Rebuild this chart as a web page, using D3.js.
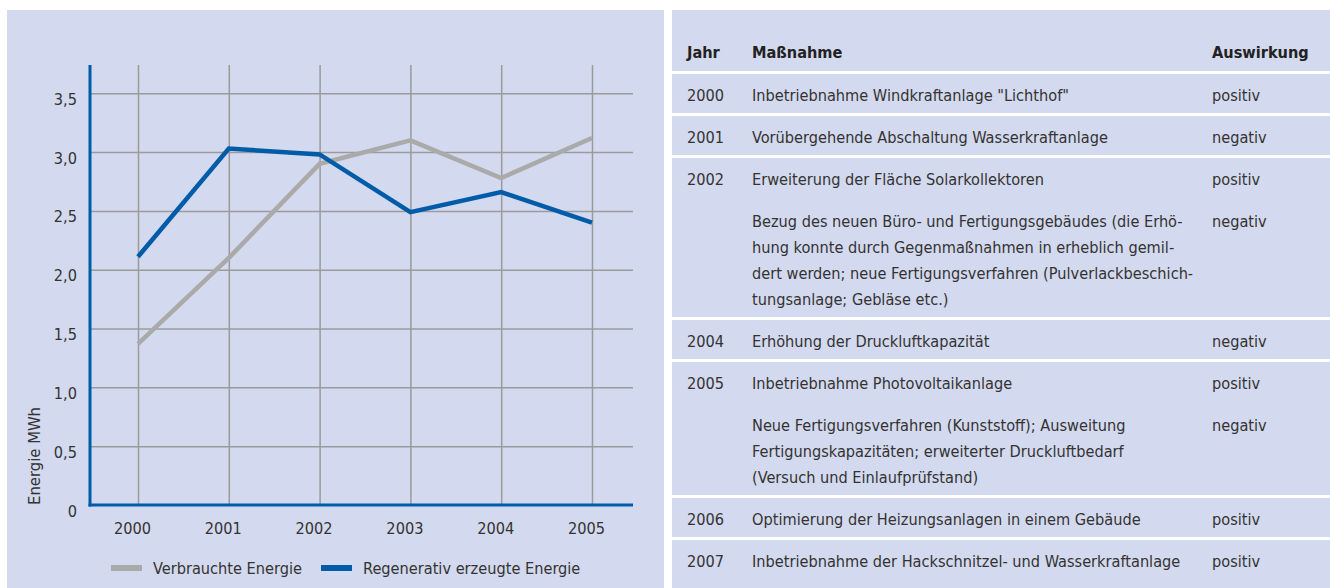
<!DOCTYPE html>
<html>
<head>
<meta charset="utf-8">
<script src="https://cdnjs.cloudflare.com/ajax/libs/d3/7.8.5/d3.min.js"></script>
<style>
	body { margin: 0; background: #fff; }
	svg text { font-family: "DejaVu Sans Condensed", "DejaVu Sans", sans-serif; font-stretch: condensed; fill: #333; font-size: 16.2px; }
	.grid line { stroke: #9b9b9b; stroke-width: 1.5; }
	.grid path { display: none; }
</style>
</head>
<body>
<svg></svg>
<script>
/************* Energie chart + Maßnahmen table *************/

var years = [2000, 2001, 2002, 2003, 2004, 2005];
var verbraucht = [1.37, 2.10, 2.90, 3.10, 2.78, 3.12];
var regenerativ = [2.11, 3.03, 2.98, 2.49, 2.66, 2.40];
var yTicks = [0, 0.5, 1, 1.5, 2, 2.5, 3, 3.5];
var seriesNames = ['Verbrauchte Energie', 'Regenerativ erzeugte Energie'];
var yTitle = 'Energie MWh';

var tableHead = ['Jahr', 'Maßnahme', 'Auswirkung'];
var tableYears = ['2000', '2001', '2002', '2004', '2005', '2006', '2007'];
var tableMeasures = [
	[['Inbetriebnahme Windkraftanlage "Lichthof"']],
	[['Vorübergehende Abschaltung Wasserkraftanlage']],
	[['Erweiterung der Fläche Solarkollektoren'],
	 ['Bezug des neuen Büro- und Fertigungsgebäudes (die Erhö-',
	  'hung konnte durch Gegenmaßnahmen in erheblich gemil-',
	  'dert werden; neue Fertigungsverfahren (Pulverlackbeschich-',
	  'tungsanlage; Gebläse etc.)']],
	[['Erhöhung der Druckluftkapazität']],
	[['Inbetriebnahme Photovoltaikanlage'],
	 ['Neue Fertigungsverfahren (Kunststoff); Ausweitung',
	  'Fertigungskapazitäten; erweiterter Druckluftbedarf',
	  '(Versuch und Einlaufprüfstand)']],
	[['Optimierung der Heizungsanlagen in einem Gebäude']],
	[['Inbetriebnahme der Hackschnitzel- und Wasserkraftanlage']]
];
var tableEffects = [['positiv'], ['negativ'], ['positiv', 'negativ'], ['negativ'], ['positiv', 'negativ'], ['positiv'], ['positiv']];

var panelColor = '#d3d9ee',
	blue = '#005ca9',
	grey = '#aaaaaa';

var svg = d3.select('svg')
	.attr('width', 1330)
	.attr('height', 588);

// panels
svg.append('rect').attr('x', 7).attr('y', 10).attr('width', 657).attr('height', 578).attr('fill', panelColor);
svg.append('rect').attr('x', 672).attr('y', 10).attr('width', 658).attr('height', 578).attr('fill', panelColor);

/*** chart ***/
var plotLeft = 90, plotRight = 633, plotTop = 65, plotBottom = 505;

var x = d3.scaleLinear().domain([2000, 2005]).range([138, 592]);
var y = d3.scaleLinear().domain([0, 3.5]).range([plotBottom, 93.3]);

var chart = svg.append('g');

chart.append('g')
	.attr('class', 'grid')
	.attr('transform', 'translate(' + plotLeft + ',0)')
	.call(d3.axisLeft(y).tickValues(yTicks.slice(1)).tickSize(-(plotRight - plotLeft)).tickFormat(''));

chart.append('g')
	.attr('class', 'grid')
	.attr('transform', 'translate(0,' + plotBottom + ')')
	.call(d3.axisBottom(x).tickValues(years).tickSize(-(plotBottom - plotTop)).tickFormat(''));

// tick labels
var fmt = function(d) { return d === 0 ? '0' : d.toFixed(1).replace('.', ','); };

var yAxis = chart.append('g')
	.attr('transform', 'translate(' + plotLeft + ',0)')
	.call(d3.axisLeft(y).tickValues(yTicks).tickSize(0).tickPadding(13).tickFormat(fmt));
yAxis.select('.domain').remove();
yAxis.selectAll('text').attr('dy', 11).attr('font-size', null);

var xAxis = chart.append('g')
	.attr('transform', 'translate(0,' + plotBottom + ')')
	.call(d3.axisBottom(x).tickValues(years).tickSize(0).tickFormat(d3.format('d')));
xAxis.select('.domain').remove();
xAxis.selectAll('text').attr('y', 29).attr('dy', 0).attr('dx', -6).attr('font-size', null);

d3.selectAll('.tick text').attr('font-family', null);

// axis lines
chart.append('line').attr('x1', plotLeft).attr('x2', plotLeft).attr('y1', plotTop).attr('y2', plotBottom + 1.5)
	.attr('stroke', blue).attr('stroke-width', 3);
chart.append('line').attr('x1', plotLeft - 1.5).attr('x2', plotRight).attr('y1', plotBottom).attr('y2', plotBottom)
	.attr('stroke', blue).attr('stroke-width', 3);

chart.append('text')
	.attr('transform', 'translate(40,' + plotBottom + ') rotate(-90)')
	.style('font-size', '16.5px')
	.text(yTitle);

// series
var line = d3.line()
	.x(function(d, i) { return x(years[i]); })
	.y(function(d) { return y(d); });

chart.append('path').datum(verbraucht)
	.attr('d', line).attr('fill', 'none').attr('stroke', grey).attr('stroke-width', 4.5);
chart.append('path').datum(regenerativ)
	.attr('d', line).attr('fill', 'none').attr('stroke', blue).attr('stroke-width', 4.5);

// legend
var legend = chart.selectAll('.legend')
	.data(seriesNames)
	.enter().append('g')
	.attr('class', 'legend')
	.attr('transform', function(d, i) { return 'translate(' + [111, 321][i] + ',568)'; });

legend.append('rect')
	.attr('y', -3).attr('width', 31).attr('height', 6)
	.attr('fill', function(d, i) { return i === 0 ? grey : blue; });

legend.append('text')
	.attr('x', 42).attr('y', 6)
	.text(function(d) { return d; });

/*** table ***/
var colX = [687, 752, 1212],
	lineGap = 26, entryGap = 42;

var table = svg.append('g');

table.selectAll('.head')
	.data(tableHead)
	.enter().append('text')
	.attr('x', function(d, i) { return colX[i]; })
	.attr('y', 58)
	.attr('font-weight', 'bold')
	.style('fill', '#222')
	.text(function(d) { return d; });

var center = 95;
tableYears.forEach(function(yr, r) {
	// white separator above row
	table.append('rect')
		.attr('x', 672).attr('y', center - 24).attr('width', 658).attr('height', 3)
		.attr('fill', '#fff');

	table.append('text').attr('x', colX[0]).attr('y', center + 6).text(yr);

	var c = center;
	tableMeasures[r].forEach(function(lines, e) {
		lines.forEach(function(l, k) {
			table.append('text').attr('x', colX[1]).attr('y', c + k * lineGap + 6).text(l);
		});
		table.append('text').attr('x', colX[2]).attr('y', c + 6).text(tableEffects[r][e]);
		c += entryGap + (lines.length - 1) * lineGap;
	});
	center = c;
});
</script>
</body>
</html>
